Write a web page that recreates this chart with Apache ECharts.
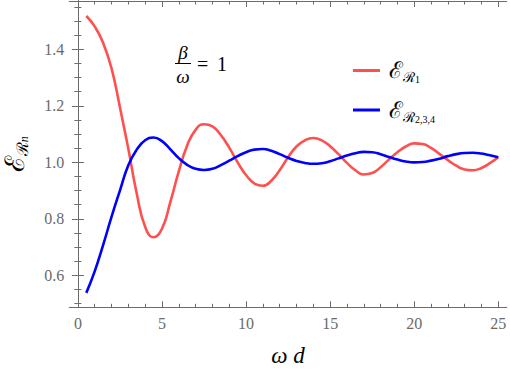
<!DOCTYPE html>
<html>
<head>
<meta charset="utf-8">
<script src="https://cdn.jsdelivr.net/npm/echarts@6/dist/echarts.min.js"></script>
<style>
html, body { margin: 0; padding: 0; background: #fff; }
#chart { width: 510px; height: 377px; }
</style>
</head>
<body>
<div id="chart"></div>
<script>
// omega d
const wd = [0.5, 1, 1.5, 2, 2.5, 3, 3.5, 4, 4.5, 5, 5.5, 6, 6.5, 7, 7.5, 8, 8.5, 9, 9.5, 10,
  10.5, 11, 11.5, 12, 12.5, 13, 13.5, 14, 14.5, 15, 15.5, 16, 16.5, 17, 17.5, 18, 18.5, 19, 19.5, 20,
  20.5, 21, 21.5, 22, 22.5, 23, 23.5, 24, 24.5, 25]
// E_R1
const eR1 = [1.518, 1.481, 1.423, 1.333, 1.195, 1.048, 0.89, 0.772, 0.735, 0.765,
  0.86, 0.968, 1.06, 1.115, 1.135, 1.127, 1.097, 1.052, 1.0, 0.955,
  0.925, 0.917, 0.935, 0.972, 1.018, 1.056, 1.078, 1.086, 1.078, 1.057,
  1.029, 0.998, 0.972, 0.957, 0.962, 0.983, 1.01, 1.036, 1.056, 1.067,
  1.065, 1.051, 1.03, 1.008, 0.988, 0.975, 0.972, 0.98, 0.997, 1.018]
// E_R2,3,4
const eR234 = [0.538, 0.614, 0.707, 0.807, 0.9, 0.99, 1.045, 1.078, 1.088, 1.075,
  1.046, 1.015, 0.991, 0.977, 0.973, 0.977, 0.99, 1.006, 1.022, 1.036,
  1.045, 1.047, 1.041, 1.029, 1.016, 1.005, 0.998, 0.995, 0.997, 1.004,
  1.014, 1.024, 1.032, 1.037, 1.036, 1.029, 1.019, 1.01, 1.003, 1.0,
  1.001, 1.006, 1.013, 1.022, 1.029, 1.033, 1.034, 1.031, 1.025, 1.018]

const xMajor = [0, 5, 10, 15, 20, 25]
const xMinor = [1, 2, 3, 4, 6, 7, 8, 9, 11, 12, 13, 14, 16, 17, 18, 19, 21, 22, 23, 24]
const yMajor = [0.6, 0.8, 1.0, 1.2, 1.4]
const yMinor = [0.5, 0.55, 0.65, 0.7, 0.75, 0.85, 0.9, 0.95, 1.05, 1.1, 1.15, 1.25, 1.3, 1.35, 1.45, 1.5, 1.55]

const frameColor = '#6a6a6a'
const serif = 'Liberation Serif'

function makeAxis(type, pos, ticks, len, withLabels) {
  const isX = type === 'x'
  return {
    type: 'value',
    position: pos,
    min: isX ? -0.51 : 0.487,
    max: isX ? 25.5 : 1.571,
    axisLine: { show: true, lineStyle: { color: frameColor, width: 1 } },
    axisTick: { show: true, inside: true, length: len, customValues: ticks, lineStyle: { color: frameColor, width: 1 } },
    axisLabel: withLabels ? {
      show: true,
      customValues: ticks,
      color: frameColor,
      fontFamily: serif,
      fontSize: 16,
      margin: isX ? 8 : 5,
      formatter: (v) => isX ? String(v) : v.toFixed(1)
    } : { show: false },
    splitLine: { show: false }
  }
}

const xMain = makeAxis('x', 'bottom', xMajor, 6, true)
xMain.name = 'ω d'
xMain.nameLocation = 'middle'
xMain.nameGap = 37
xMain.nameTextStyle = { fontFamily: serif, fontStyle: 'italic', fontSize: 23, color: '#000' }

const yMain = makeAxis('y', 'left', yMajor, 6, true)
yMain.name = '{e|ℰ}{r|ℛ}{n|n}'
yMain.nameLocation = 'middle'
yMain.nameRotate = 90
yMain.nameGap = 39
yMain.nameTextStyle = {
  color: '#000',
  rich: {
    e: { fontFamily: serif, fontSize: 27, lineHeight: 30, color: '#000' },
    r: { fontFamily: serif, fontSize: 16, lineHeight: 14, verticalAlign: 'bottom', color: '#000' },
    n: { fontFamily: serif, fontStyle: 'italic', fontSize: 12, lineHeight: 8, verticalAlign: 'bottom', color: '#000' }
  }
}

const legendNames = { E1: '{e|ℰ}{r|ℛ}{k|1}', E234: '{e|ℰ}{r|ℛ}{k|2,3,4}' }

const chart = echarts.init(document.getElementById('chart'), null, { renderer: 'svg' })

chart.setOption({
  animation: false,
  grid: { left: 69.3, right: 3.3, top: 1, bottom: 69.7, outerBoundsMode: 'none' },
  xAxis: [
    xMain,
    makeAxis('x', 'bottom', xMinor, 3.5, false),
    makeAxis('x', 'top', xMajor, 6, false),
    makeAxis('x', 'top', xMinor, 3.5, false)
  ],
  yAxis: [
    yMain,
    makeAxis('y', 'left', yMinor, 3.5, false),
    makeAxis('y', 'right', yMajor, 6, false),
    makeAxis('y', 'right', yMinor, 3.5, false)
  ],
  legend: {
    orient: 'vertical',
    left: 353,
    top: 59,
    padding: 0,
    icon: 'rect',
    itemWidth: 27,
    itemHeight: 3,
    itemGap: 14,
    formatter: (name) => legendNames[name],
    textStyle: {
      padding: [0, 0, 0, 4],
      rich: {
        e: { fontFamily: serif, fontSize: 23, lineHeight: 28, color: '#000' },
        r: { fontFamily: serif, fontSize: 14, lineHeight: 12, verticalAlign: 'bottom', color: '#000' },
        k: { fontFamily: serif, fontSize: 10, lineHeight: 6, verticalAlign: 'bottom', color: '#000' }
      }
    }
  },
  graphic: [
    { type: 'text', style: { text: 'β', x: 183, y: 52, align: 'center', verticalAlign: 'middle', font: 'italic 19px Liberation Serif', fill: '#000' } },
    { type: 'line', shape: { x1: 175, y1: 63.5, x2: 191, y2: 63.5 }, style: { stroke: '#000', lineWidth: 1 } },
    { type: 'text', style: { text: 'ω', x: 183, y: 76, align: 'center', verticalAlign: 'middle', font: 'italic 19px Liberation Serif', fill: '#000' } },
    { type: 'text', style: { text: '=', x: 197, y: 64, align: 'left', verticalAlign: 'middle', font: '20px Liberation Serif', fill: '#000' } },
    { type: 'text', style: { text: '1', x: 217, y: 64, align: 'left', verticalAlign: 'middle', font: '20px Liberation Serif', fill: '#000' } }
  ],
  series: [
    {
      name: 'E1',
      type: 'line',
      data: wd.map((x, i) => [x, eR1[i]]),
      symbol: 'none',
      smooth: 0.5,
      lineStyle: { color: '#ff5050', width: 2.6 },
      itemStyle: { color: '#ff5050' }
    },
    {
      name: 'E234',
      type: 'line',
      data: wd.map((x, i) => [x, eR234[i]]),
      symbol: 'none',
      smooth: 0.5,
      lineStyle: { color: '#0000ff', width: 2.6 },
      itemStyle: { color: '#0000ff' }
    }
  ]
})
</script>
</body>
</html>
